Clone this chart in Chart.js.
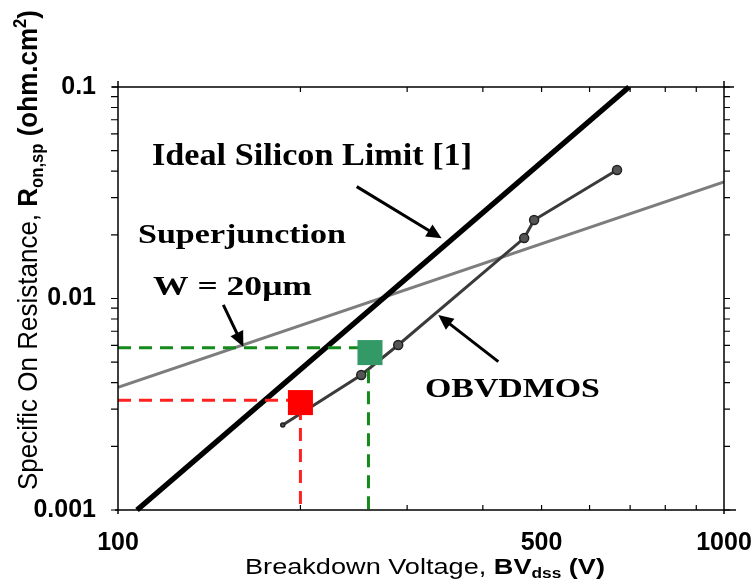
<!DOCTYPE html>
<html>
<head>
<meta charset="utf-8">
<script src="https://cdn.jsdelivr.net/npm/chart.js@4.4.1/dist/chart.umd.min.js"></script>
<style>
  html, body { margin: 0; padding: 0; background: #fff; }
  #wrap { width: 756px; height: 587px; }
</style>
</head>
<body>
<div id="wrap"><canvas id="ronChart"></canvas></div>
<script>
// axis ticks
const xLabelTicks = [100, 500, 1000];
const yLabelTicks = [0.001, 0.01, 0.1];
const xMinorTicks = [200, 300, 400, 500, 600, 700, 800, 900];
const yMinorTicks = [0.002, 0.003, 0.004, 0.005, 0.006, 0.007, 0.008, 0.009,
                     0.02, 0.03, 0.04, 0.05, 0.06, 0.07, 0.08, 0.09];

// Ideal silicon limit
const idealBV = [107.5, 697];
const idealRon = [0.001, 0.1];
// Superjunction W = 20um
const sjBV = [100, 1000];
const sjRon = [0.0038, 0.0356];
// OBVDMOS
const obvBV = [187, 252, 290, 468, 486, 666];
const obvRon = [0.00252, 0.00435, 0.00603, 0.0193, 0.0235, 0.0405];
// highlighted devices (dashed guides + square)
const redGuideBV = [100, 200, 200];
const redGuideRon = [0.0033, 0.0033, 0.001];
const redSquare = [200, 0.00322];
const greenGuideBV = [100, 259, 259];
const greenGuideRon = [0.00585, 0.00585, 0.001];
const greenSquare = [260.5, 0.00555];

const pts = (xs, ys) => xs.map((x, i) => ({x: x, y: ys[i]}));

// annotation text and arrows, anchored in data units
const notes = [
  {text: 'Ideal Silicon Limit [1]', x: 113.8, y: 0.0428, size: 32, width: 320},
  {text: 'Superjunction', x: 107.9, y: 0.01824, size: 28, width: 208},
  {text: 'W = 20\u03bcm', x: 114.2, y: 0.01039, size: 28, width: 159},
  {text: 'OBVDMOS', x: 321, y: 0.00343, size: 28, width: 175}
];
const arrows = [
  {from: [247.7, 0.0338], to: [342, 0.01926]},
  {from: [149.2, 0.00932], to: [161, 0.00592]},
  {from: [424.2, 0.00503], to: [337.7, 0.00836]}
];

function richText(ctx, segs, base) {
  let w = 0;
  segs.forEach(s => {
    ctx.font = (s.bold ? 'bold ' : '') + (s.size || base) + 'px "Liberation Sans", Arial, sans-serif';
    s.w = ctx.measureText(s.t).width;
    w += s.w;
  });
  return w;
}
function drawRich(ctx, segs, base) {
  let x = 0;
  segs.forEach(s => {
    ctx.font = (s.bold ? 'bold ' : '') + (s.size || base) + 'px "Liberation Sans", Arial, sans-serif';
    ctx.fillText(s.t, x, s.dy || 0);
    x += s.w;
  });
}

const decorPlugin = {
  id: 'decor',
  beforeDraw(chart) {
    const ctx = chart.ctx;
    ctx.save();
    ctx.fillStyle = '#fff';
    ctx.fillRect(0, 0, chart.width, chart.height);
    ctx.restore();
  },
  afterDraw(chart) {
    const ctx = chart.ctx;
    const xs = chart.scales.x, ys = chart.scales.y;
    const a = chart.chartArea;
    ctx.save();
    // frame
    ctx.strokeStyle = '#000';
    ctx.lineWidth = 1.5;
    ctx.beginPath();
    ctx.moveTo(a.left, a.top - 6); ctx.lineTo(a.left, a.bottom + 4);
    ctx.moveTo(a.left - 3, a.bottom); ctx.lineTo(a.right + 12, a.bottom);
    ctx.moveTo(a.left - 6, a.top); ctx.lineTo(a.right + 10, a.top);
    ctx.moveTo(a.right, a.top - 6); ctx.lineTo(a.right, a.bottom + 4);
    ctx.stroke();
    // tick marks
    ctx.lineWidth = 1.2;
    ctx.beginPath();
    xMinorTicks.forEach(v => {
      const px = xs.getPixelForValue(v);
      ctx.moveTo(px, a.bottom); ctx.lineTo(px, a.bottom - 5);
      ctx.moveTo(px, a.top); ctx.lineTo(px, a.top + 5);
    });
    yMinorTicks.concat(yLabelTicks).forEach(v => {
      const py = ys.getPixelForValue(v);
      ctx.moveTo(a.left, py); ctx.lineTo(a.left - 7, py);
      ctx.moveTo(a.right, py); ctx.lineTo(a.right + 6, py);
    });
    ctx.stroke();

    // arrows
    ctx.fillStyle = '#000';
    arrows.forEach(ar => {
      const x1 = xs.getPixelForValue(ar.from[0]), y1 = ys.getPixelForValue(ar.from[1]);
      const x2 = xs.getPixelForValue(ar.to[0]), y2 = ys.getPixelForValue(ar.to[1]);
      const ang = Math.atan2(y2 - y1, x2 - x1);
      const hl = 15, hw = 7;
      ctx.lineWidth = 3;
      ctx.beginPath();
      ctx.moveTo(x1, y1);
      ctx.lineTo(x2 - Math.cos(ang) * hl * 0.8, y2 - Math.sin(ang) * hl * 0.8);
      ctx.stroke();
      ctx.beginPath();
      ctx.moveTo(x2, y2);
      ctx.lineTo(x2 - Math.cos(ang) * hl - Math.sin(ang) * hw, y2 - Math.sin(ang) * hl + Math.cos(ang) * hw);
      ctx.lineTo(x2 - Math.cos(ang) * hl + Math.sin(ang) * hw, y2 - Math.sin(ang) * hl - Math.cos(ang) * hw);
      ctx.closePath();
      ctx.fill();
    });

    // serif notes
    ctx.textBaseline = 'alphabetic';
    ctx.textAlign = 'left';
    notes.forEach(n => {
      ctx.font = 'bold ' + n.size + 'px "Liberation Serif", "Times New Roman", serif';
      const w = ctx.measureText(n.text).width;
      ctx.save();
      ctx.translate(xs.getPixelForValue(n.x), ys.getPixelForValue(n.y));
      ctx.scale(n.width / w, 1);
      ctx.fillText(n.text, 0, 0);
      ctx.restore();
    });

    // x axis title
    const xt = [
      {t: 'Breakdown Voltage, '},
      {t: 'BV', bold: true},
      {t: 'dss', bold: true, size: 14, dy: 4},
      {t: ' (V)', bold: true}
    ];
    const xw = richText(ctx, xt, 22);
    ctx.save();
    ctx.translate(245, 574);
    ctx.scale(360 / xw, 1);
    drawRich(ctx, xt, 22);
    ctx.restore();

    // y axis title
    const yt = [
      {t: 'Specific On Resistance, '},
      {t: 'R', bold: true},
      {t: 'on,sp', bold: true, size: 16, dy: 5},
      {t: ' (ohm.cm', bold: true},
      {t: '2', bold: true, size: 16, dy: -10},
      {t: ')', bold: true}
    ];
    const yw = richText(ctx, yt, 25);
    ctx.save();
    ctx.translate(37, 490);
    ctx.rotate(-Math.PI / 2);
    ctx.scale(480 / yw, 1.12);
    drawRich(ctx, yt, 25);
    ctx.restore();

    ctx.restore();
  }
};

const tickFont = {family: '"Liberation Sans", Arial, sans-serif', weight: 'bold', size: 25};

new Chart(document.getElementById('ronChart'), {
  type: 'scatter',
  plugins: [decorPlugin],
  data: {
    datasets: [{
      label: 'red square',
      data: [{x: redSquare[0], y: redSquare[1]}],
      pointStyle: 'rect',
      pointRadius: 17.7,
      backgroundColor: '#ff0000',
      borderWidth: 0,
      showLine: false
    }, {
      label: 'green square',
      data: [{x: greenSquare[0], y: greenSquare[1]}],
      pointStyle: 'rect',
      pointRadius: 17.7,
      backgroundColor: '#339966',
      borderWidth: 0,
      showLine: false
    }, {
      label: 'red guide',
      data: pts(redGuideBV, redGuideRon),
      showLine: true,
      borderColor: '#ff2020',
      borderWidth: 3,
      borderDash: [13, 8],
      pointRadius: 0
    }, {
      label: 'green guide',
      data: pts(greenGuideBV, greenGuideRon),
      showLine: true,
      borderColor: '#138a1a',
      borderWidth: 3,
      borderDash: [13, 8],
      pointRadius: 0
    }, {
      label: 'Ideal Silicon Limit [1]',
      data: pts(idealBV, idealRon),
      showLine: true,
      borderColor: '#000',
      borderWidth: 5.5,
      pointRadius: 0,
      clip: 8
    }, {
      label: 'OBVDMOS',
      data: pts(obvBV, obvRon),
      showLine: true,
      borderColor: '#3a3a3a',
      borderWidth: 3,
      pointRadius: [2, 4.5, 4.5, 4.5, 4.5, 4.5],
      pointBackgroundColor: '#555',
      pointBorderColor: '#222',
      pointBorderWidth: 1.5
    }, {
      label: 'Superjunction',
      data: pts(sjBV, sjRon),
      showLine: true,
      borderColor: '#7d7d7d',
      borderWidth: 3,
      pointRadius: 0
    }]
  },
  options: {
    responsive: true,
    maintainAspectRatio: false,
    animation: false,
    layout: {
      padding: {left: 0, right: 32, top: 87, bottom: 0}
    },
    scales: {
      x: {
        type: 'logarithmic',
        min: 100,
        max: 1000,
        grid: {display: false, drawTicks: false},
        border: {display: false},
        afterBuildTicks: (scale) => { scale.ticks = xLabelTicks.map(v => ({value: v})); },
        afterFit: (scale) => {
          scale.height = 77;
          scale.paddingLeft = 0;
          scale.paddingRight = 0;
        },
        ticks: {
          autoSkip: false,
          maxRotation: 0,
          padding: 18,
          color: '#000',
          font: tickFont,
          callback: (v) => String(v)
        }
      },
      y: {
        type: 'logarithmic',
        min: 0.001,
        max: 0.1,
        grid: {display: false, drawTicks: false},
        border: {display: false},
        afterBuildTicks: (scale) => { scale.ticks = yLabelTicks.map(v => ({value: v})); },
        afterFit: (scale) => {
          scale.width = 118;
          scale.paddingTop = 0;
          scale.paddingBottom = 0;
        },
        ticks: {
          autoSkip: false,
          padding: 22,
          color: '#000',
          font: tickFont,
          callback: (v) => String(v)
        }
      }
    },
    plugins: {
      legend: {display: false},
      tooltip: {enabled: false}
    }
  }
});
</script>
</body>
</html>
